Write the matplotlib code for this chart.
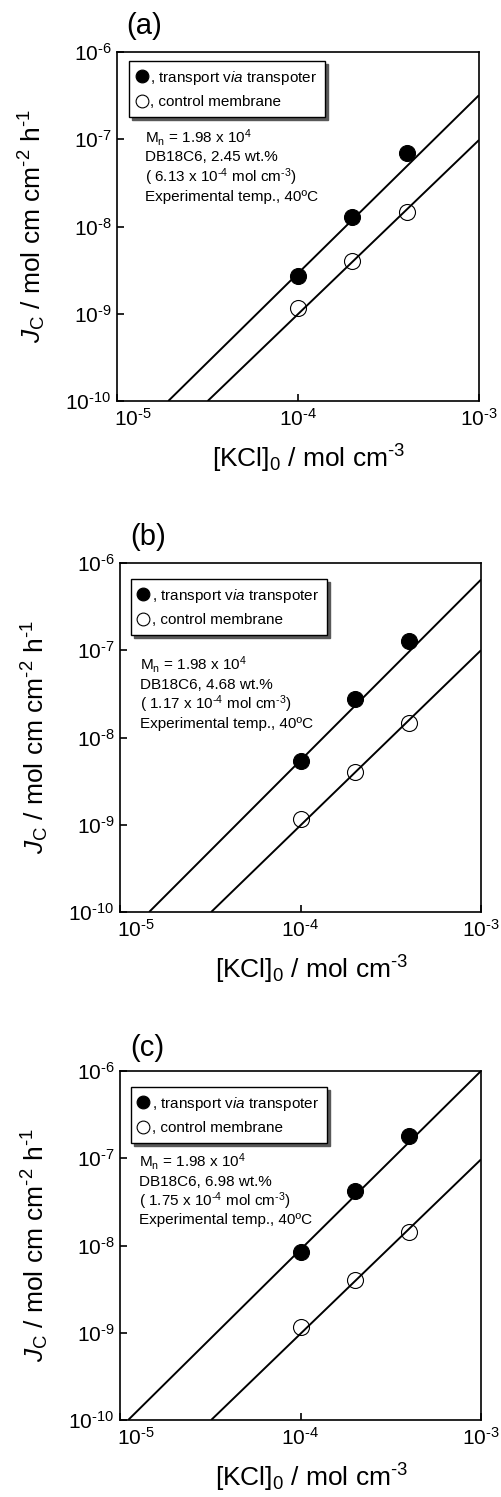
import matplotlib
matplotlib.use('Agg')
import matplotlib.pyplot as plt
import matplotlib.transforms as mtransforms
from matplotlib.ticker import FixedLocator, FixedFormatter, NullLocator

plt.rcParams.update({
    'font.family': ['Liberation Sans', 'DejaVu Sans'],
    'mathtext.fontset': 'custom',
    'mathtext.rm': 'Liberation Sans',
    'mathtext.it': 'Liberation Sans:italic',
    'mathtext.bf': 'Liberation Sans:bold',
    'mathtext.sf': 'Liberation Sans',
    'axes.unicode_minus': False,
})

# ---------------- data ----------------
kcl = [1e-4, 2e-4, 4e-4]

transporter_a = [2.7e-9, 1.3e-8, 6.9e-8]
control_a = [1.15e-9, 4.0e-9, 1.45e-8]
transporter_b = [5.4e-9, 2.75e-8, 1.26e-7]
control_b = [1.17e-9, 4.0e-9, 1.45e-8]
transporter_c = [8.45e-9, 4.2e-8, 1.8e-7]
control_c = [1.17e-9, 4.0e-9, 1.44e-8]

# fitted lines (end points)
fit_trans_x_a = [1.92e-5, 1e-3]
fit_trans_y_a = [1e-10, 3.2e-7]
fit_ctrl_x_a = [3.17e-5, 1e-3]
fit_ctrl_y_a = [1e-10, 9.8e-8]
fit_trans_x_b = [1.45e-5, 1e-3]
fit_trans_y_b = [1e-10, 6.45e-7]
fit_ctrl_x_b = [3.2e-5, 1e-3]
fit_ctrl_y_b = [1e-10, 1e-7]
fit_trans_x_c = [1.11e-5, 1e-3]
fit_trans_y_c = [1e-10, 1e-6]
fit_ctrl_x_c = [3.2e-5, 1e-3]
fit_ctrl_y_c = [1e-10, 9.7e-8]

panel_labels = ['(a)', '(b)', '(c)']
wt_values = ['2.45', '4.68', '6.98']
conc_values = ['6.13', '1.17', '1.75']

x_ticks = [1e-5, 1e-4, 1e-3]
x_tick_labels = [r'$10^{\text{-}5}$', r'$10^{\text{-}4}$', r'$10^{\text{-}3}$']
y_ticks = [1e-10, 1e-9, 1e-8, 1e-7, 1e-6]
y_tick_labels = [r'$10^{\text{-}10}$', r'$10^{\text{-}9}$', r'$10^{\text{-}8}$',
                 r'$10^{\text{-}7}$', r'$10^{\text{-}6}$']

x_label = r'[KCl]$_0$ / mol cm$^{\text{-}3}$'
y_label = r'$J_{\mathrm{C}}$ / mol cm cm$^{\text{-}2}$ h$^{\text{-}1}$'
legend_labels = [r', transport v$\mathit{ia}$ transpoter', ', control membrane']

# ---------------- layout ----------------
W, H = 502, 1497
fig = plt.figure(figsize=(W / 100, H / 100), dpi=100)


def rect(l, r, t, b):
    return [l / W, 1 - b / H, (r - l) / W, (b - t) / H]


panels = [
    dict(px=(117, 479, 52, 401), trans=transporter_a, ctrl=control_a,
         ft=(fit_trans_x_a, fit_trans_y_a), fc=(fit_ctrl_x_a, fit_ctrl_y_a),
         lab_xy=(144, 26), ann_x=0.077, ann_y=[0.754, 0.699, 0.642, 0.585],
         leg=(0.033, 0.974)),
    dict(px=(120, 481, 563, 912), trans=transporter_b, ctrl=control_b,
         ft=(fit_trans_x_b, fit_trans_y_b), fc=(fit_ctrl_x_b, fit_ctrl_y_b),
         lab_xy=(148, 537), ann_x=0.055, ann_y=[0.708, 0.651, 0.596, 0.539],
         leg=(0.030, 0.954)),
    dict(px=(120, 481, 1071, 1420), trans=transporter_c, ctrl=control_c,
         ft=(fit_trans_x_c, fit_trans_y_c), fc=(fit_ctrl_x_c, fit_ctrl_y_c),
         lab_xy=(147, 1048), ann_x=0.053, ann_y=[0.740, 0.683, 0.628, 0.572],
         leg=(0.030, 0.954)),
]

for i, p in enumerate(panels):
    l, r, t, b = p['px']
    wpx, hpx = r - l, b - t
    ax = fig.add_axes(rect(l, r, t, b))
    ax.set_xscale('log')
    ax.set_yscale('log')
    ax.set_xlim(1e-5, 1e-3)
    ax.set_ylim(1e-10, 1e-6)

    ax.plot(p['ft'][0], p['ft'][1], color='black', lw=1.4, solid_capstyle='butt')
    ax.plot(p['fc'][0], p['fc'][1], color='black', lw=1.4, solid_capstyle='butt')
    h1, = ax.plot(kcl, p['trans'], 'o', ms=11.5, mfc='black', mec='black',
                  mew=0.8, ls='none')
    h2, = ax.plot(kcl, p['ctrl'], 'o', ms=11.5, mfc='none', mec='black',
                  mew=0.8, ls='none')

    ax.xaxis.set_major_locator(FixedLocator(x_ticks))
    ax.xaxis.set_major_formatter(FixedFormatter(x_tick_labels))
    ax.yaxis.set_major_locator(FixedLocator(y_ticks))
    ax.yaxis.set_major_formatter(FixedFormatter(y_tick_labels))
    ax.xaxis.set_minor_locator(NullLocator())
    ax.yaxis.set_minor_locator(NullLocator())
    ax.tick_params(which='major', direction='in', length=5, width=1.2,
                   labelsize=15, top=False, right=False)
    ax.tick_params(axis='y', pad=4)
    ax.tick_params(axis='x', pad=5)
    for s in ax.spines.values():
        s.set_linewidth(1.2)

    # first x tick label sits to the right of its tick (as in the reference)
    xt = ax.xaxis.get_major_ticks()
    xt[0].label1.set_horizontalalignment('left')
    xt[0].label1.set_transform(
        xt[0].label1.get_transform()
        + mtransforms.ScaledTranslation(-3 / 100, 0, fig.dpi_scale_trans))

    ax.set_xlabel(x_label, fontsize=19, va='top')
    ax.xaxis.set_label_coords(0.53, -42 / hpx)
    ax.set_ylabel(y_label, fontsize=19)
    ax.yaxis.set_label_coords(-69 / wpx, 0.5)

    leg = ax.legend([h1, h2], legend_labels, loc='upper left',
                    bbox_to_anchor=p['leg'], borderaxespad=0,
                    fontsize=11, frameon=True, fancybox=False,
                    shadow={'color': '0.35', 'alpha': 1.0},
                    edgecolor='black', framealpha=1,
                    handlelength=0.65, handletextpad=0.25, borderpad=0.5,
                    labelspacing=0.55, markerscale=0.8)
    leg.get_frame().set_linewidth(1.0)

    ann = [r'M$_\mathrm{n}$ = 1.98 x 10$^4$',
           f'DB18C6, {wt_values[i]} wt.%',
           r'( ' + conc_values[i] + r' x 10$^{\text{-}4}$ mol cm$^{\text{-}3}$)',
           'Experimental temp., 40ºC']
    for txt, yy in zip(ann, p['ann_y']):
        ax.text(p['ann_x'], yy, txt, transform=ax.transAxes, fontsize=11,
                ha='left', va='center')

    fig.text(p['lab_xy'][0] / W, 1 - p['lab_xy'][1] / H, panel_labels[i],
             fontsize=21, ha='center', va='center')

fig.savefig('out.png', dpi=100)
